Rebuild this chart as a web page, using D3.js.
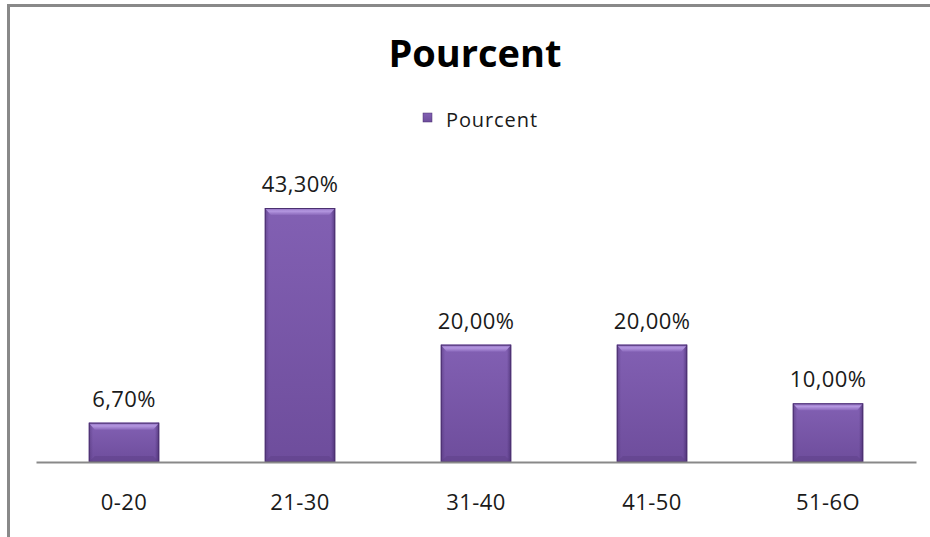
<!DOCTYPE html>
<html>
<head>
<meta charset="utf-8">
<script src="https://cdn.jsdelivr.net/npm/d3@7"></script>
<style>
  body { margin: 0; background: #fff; }
  text { font-family: "Open Sans", "Liberation Sans", sans-serif; }
</style>
</head>
<body>
<svg id="chart" width="930" height="537"></svg>
<script>
const categories = ['0-20', '21-30', '31-40', '41-50', '51-6O'];
const values = [6.7, 43.3, 20, 20, 10];
const valueLabels = ['6,70%', '43,30%', '20,00%', '20,00%', '10,00%'];
const seriesName = 'Pourcent';

const svg = d3.select('#chart');
const width = +svg.attr('width');
const height = +svg.attr('height');

// frame (only top and left edges show in the picture)
svg.append('line').attr('x1', 7).attr('y1', 5.5).attr('x2', width).attr('y2', 5.5)
    .attr('stroke', '#898989').attr('stroke-width', 3);
svg.append('line').attr('x1', 8.5).attr('y1', 4).attr('x2', 8.5).attr('y2', height)
    .attr('stroke', '#898989').attr('stroke-width', 3);

// gradients for the bevelled bars
const defs = svg.append('defs');
const vg = defs.append('linearGradient').attr('id', 'barV')
    .attr('x1', 0).attr('y1', 0).attr('x2', 0).attr('y2', 1);
vg.append('stop').attr('offset', '0%').attr('stop-color', '#8260b3');
vg.append('stop').attr('offset', '100%').attr('stop-color', '#6e4d9c');
const hg = defs.append('linearGradient').attr('id', 'barH')
    .attr('x1', 0).attr('y1', 0).attr('x2', 1).attr('y2', 0);
hg.append('stop').attr('offset', '0%').attr('stop-color', '#4a2f70').attr('stop-opacity', 0.5);
hg.append('stop').attr('offset', '6%').attr('stop-color', '#4a2f70').attr('stop-opacity', 0);
hg.append('stop').attr('offset', '94%').attr('stop-color', '#3a2260').attr('stop-opacity', 0);
hg.append('stop').attr('offset', '100%').attr('stop-color', '#3a2260').attr('stop-opacity', 0.6);
const tg = defs.append('linearGradient').attr('id', 'barTop')
    .attr('x1', 0).attr('y1', 0).attr('x2', 0).attr('y2', 1);
tg.append('stop').attr('offset', '0%').attr('stop-color', '#8a68bb');
tg.append('stop').attr('offset', '45%').attr('stop-color', '#b497e0');
tg.append('stop').attr('offset', '100%').attr('stop-color', '#8a68bb');

const margin = {top: 208, right: 14, bottom: 75, left: 36};
const x = d3.scaleBand()
    .domain(categories)
    .range([margin.left, width - margin.right])
    .paddingInner(0.6)
    .paddingOuter(0.3);

const y = d3.scaleLinear()
    .domain([0, 43.3])
    .range([height - margin.bottom, margin.top]);

const data = categories.map((c, i) => ({cat: c, v: values[i], label: valueLabels[i]}));

// title and legend
svg.append('text')
    .attr('x', 475).attr('y', 67)
    .attr('text-anchor', 'middle')
    .attr('font-size', 38).attr('font-weight', 'bold')
    .attr('fill', '#000')
    .text('Pourcent');

svg.append('rect').attr('x', 423).attr('y', 113).attr('width', 9).attr('height', 9)
    .attr('fill', 'url(#barV)').attr('stroke', '#4b3070').attr('stroke-width', 0.5);
svg.append('text').attr('x', 446).attr('y', 127)
    .attr('font-size', 20).attr('letter-spacing', 0.9).attr('fill', '#1a1a1a')
    .text(seriesName);

// bars
const bars = svg.append('g');
const bw = x.bandwidth();
bars.selectAll('rect.bar').data(data).enter().append('rect')
    .attr('class', 'bar')
    .attr('x', d => x(d.cat))
    .attr('y', d => y(d.v))
    .attr('width', bw)
    .attr('height', d => y(0) - y(d.v))
    .attr('fill', 'url(#barV)');
bars.selectAll('rect.side').data(data).enter().append('rect')
    .attr('x', d => x(d.cat))
    .attr('y', d => y(d.v))
    .attr('width', bw)
    .attr('height', d => y(0) - y(d.v))
    .attr('fill', 'url(#barH)');
// top highlight
bars.selectAll('path.top').data(data).enter().append('path')
    .attr('d', d => {
        const x0 = x(d.cat), y0 = y(d.v);
        return `M${x0},${y0}H${x0 + bw}L${x0 + bw - 6},${y0 + 7}H${x0 + 6}Z`;
    })
    .attr('fill', 'url(#barTop)');
bars.selectAll('path.bot').data(data).enter().append('path')
    .attr('d', d => {
        const x0 = x(d.cat), y0 = y(0);
        return `M${x0},${y0}H${x0 + bw}L${x0 + bw - 6},${y0 - 6}H${x0 + 6}Z`;
    })
    .attr('fill', '#5e4088').attr('opacity', 0.5);
bars.selectAll('rect.edge').data(data).enter().append('rect')
    .attr('x', d => x(d.cat) + 0.5)
    .attr('y', d => y(d.v) + 0.5)
    .attr('width', bw - 1)
    .attr('height', d => y(0) - y(d.v) - 1)
    .attr('fill', 'none')
    .attr('stroke', '#4b3070').attr('stroke-width', 1);

// value labels
svg.append('g').selectAll('text').data(data).enter().append('text')
    .attr('x', d => x(d.cat) + bw / 2)
    .attr('y', d => y(d.v) - 16)
    .attr('text-anchor', 'middle')
    .attr('font-size', 22).attr('letter-spacing', 0.4).attr('fill', '#1a1a1a')
    .text(d => d.label);

// x axis
const xAxisG = svg.append('g')
    .attr('transform', `translate(0,${y(0)})`)
    .call(d3.axisBottom(x).tickSize(0).tickPadding(32));
xAxisG.select('.domain').attr('stroke', '#898989').attr('stroke-width', 2);
xAxisG.selectAll('text')
    .attr('font-size', 22).attr('letter-spacing', 0.4).attr('fill', '#1a1a1a')
    .attr('font-family', '"Open Sans", sans-serif');
</script>
</body>
</html>
